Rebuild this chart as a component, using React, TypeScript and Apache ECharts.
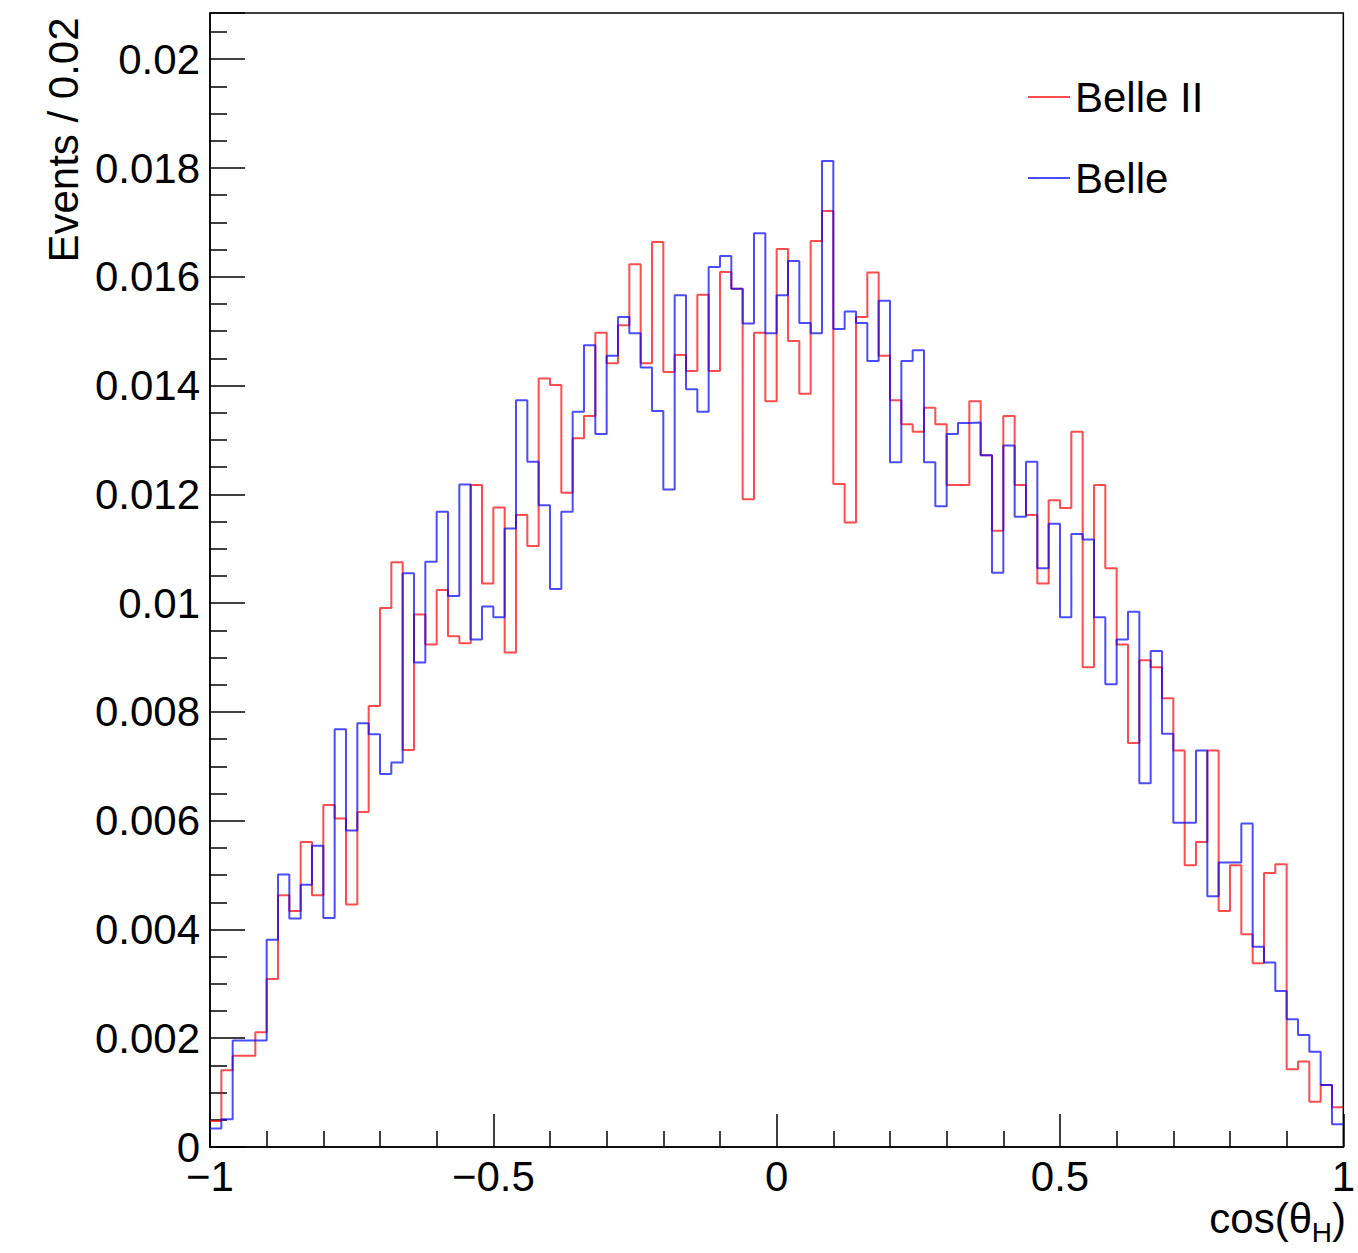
import React, { useEffect, useRef } from "react";
import * as echarts from "echarts";

// Histogram binning: 100 bins from -1 to 1
const X_MIN = -1;
const X_MAX = 1;
const BIN_WIDTH = 0.02;

const seriesNames = ["Belle II", "Belle"];

// Belle II (red), per-bin content
const belle2 = [
  0.00048, 0.00141, 0.00168, 0.00168, 0.00211, 0.00309, 0.00463, 0.00434, 0.00561, 0.00463,
  0.00629, 0.00604, 0.00446, 0.00616, 0.00811, 0.00991, 0.01075, 0.0073, 0.00979, 0.00924,
  0.01024, 0.00939, 0.00926, 0.01217, 0.01036, 0.01176, 0.00909, 0.01162, 0.01105, 0.01413,
  0.01401, 0.01203, 0.01303, 0.01344, 0.01497, 0.01441, 0.01511, 0.01623, 0.01441, 0.01664,
  0.01425, 0.01456, 0.01427, 0.01567, 0.01427, 0.01609, 0.01578, 0.01191, 0.01497, 0.01371,
  0.01651, 0.01482, 0.01385, 0.01666, 0.01721, 0.01219, 0.01148, 0.01526, 0.01608, 0.01455,
  0.01373, 0.01329, 0.01315, 0.01359, 0.01329, 0.01217, 0.01217, 0.01371, 0.01272, 0.01133,
  0.01344, 0.01217, 0.01162, 0.01036, 0.01189, 0.01175, 0.01315, 0.00882, 0.01217, 0.01064,
  0.00924, 0.00743, 0.00895, 0.00882, 0.00825, 0.00729, 0.00518, 0.00561, 0.00729, 0.00434,
  0.00518, 0.00391, 0.00338, 0.00504, 0.0052, 0.00143, 0.00157, 0.00083, 0.00114, 0.00073,
];

// Belle (blue), per-bin content
const belle = [
  0.00034, 0.00051, 0.00196, 0.00196, 0.00196, 0.00381, 0.00501, 0.0042, 0.00482, 0.00554,
  0.00421, 0.00768, 0.00582, 0.00779, 0.00759, 0.00686, 0.00707, 0.01055, 0.00891, 0.01076,
  0.01168, 0.01013, 0.01218, 0.00933, 0.00994, 0.00974, 0.01137, 0.01373, 0.0126, 0.0118,
  0.01026, 0.01168, 0.01352, 0.01474, 0.01311, 0.01455, 0.01526, 0.01496, 0.01433, 0.01353,
  0.01209, 0.01566, 0.01393, 0.01352, 0.01618, 0.01638, 0.01578, 0.01514, 0.0168, 0.01496,
  0.01566, 0.01629, 0.01515, 0.01496, 0.01813, 0.01504, 0.01536, 0.01515, 0.01445, 0.01556,
  0.01259, 0.01445, 0.01465, 0.01259, 0.01178, 0.01311, 0.01331, 0.01332, 0.01272, 0.01056,
  0.0129, 0.01159, 0.0126, 0.01064, 0.01146, 0.00974, 0.01127, 0.01117, 0.00974, 0.00851,
  0.00933, 0.00984, 0.00669, 0.00912, 0.0076, 0.00596, 0.00596, 0.00729, 0.00461, 0.00523,
  0.00523, 0.00595, 0.00368, 0.00339, 0.00287, 0.00235, 0.00206, 0.00175, 0.00114, 0.00042,
];

// Axis settings
const Y_MAX = 0.02085;
const Y_INTERVAL = 0.002;
const X_INTERVAL = 0.5;
const yTitle = "Events / 0.02";
const xTitleMain = "cos(θ";
const xTitleSub = "H";
const xTitleEnd = ")";

const FONT = "'Liberation Sans', Arial, Helvetica, sans-serif";

function histPoints(vals: number[]): number[][] {
  const pts = vals.map((v, i) => [Number((X_MIN + i * BIN_WIDTH).toFixed(4)), v]);
  pts.push([Number((X_MIN + vals.length * BIN_WIDTH).toFixed(4)), vals[vals.length - 1]]);
  return pts;
}

function fmtNum(v: number): string {
  const s = parseFloat(v.toFixed(4)).toString();
  return v < 0 ? "\u2212" + s.replace("-", "") : s;
}

export default function App() {
  const ref = useRef<HTMLDivElement>(null);

  useEffect(() => {
    if (!ref.current) return;
    const chart = echarts.init(ref.current, null, { renderer: "svg" });
    const axisLineStyle = { color: "#000", width: 1.5 };
    chart.setOption({
      animation: false,
      backgroundColor: "#fff",
      grid: {
        left: 210,
        right: 12,
        top: 13,
        bottom: 106,
        show: true,
        borderColor: "#000",
        borderWidth: 1.5,
        backgroundColor: "transparent",
      },
      legend: {
        left: 1028,
        top: 76,
        padding: 0,
        orient: "vertical",
        icon: "rect",
        itemWidth: 42,
        itemHeight: 2,
        itemGap: 39,
        data: seriesNames,
        textStyle: { color: "#000", fontSize: 42, fontFamily: FONT },
      },
      xAxis: {
        type: "value",
        min: X_MIN,
        max: X_MAX,
        interval: X_INTERVAL,
        axisLine: { show: true, onZero: false, lineStyle: axisLineStyle },
        axisTick: { show: true, inside: true, length: 33, lineStyle: axisLineStyle },
        minorTick: { show: true, splitNumber: 5, length: 16, lineStyle: axisLineStyle },
        splitLine: { show: false },
        minorSplitLine: { show: false },
        axisLabel: {
          color: "#000",
          fontSize: 42,
          fontFamily: FONT,
          margin: 8,
          formatter: (v: number) => fmtNum(v),
        },
      },
      yAxis: {
        type: "value",
        min: 0,
        max: Y_MAX,
        interval: Y_INTERVAL,
        axisLine: { show: true, onZero: false, lineStyle: axisLineStyle },
        axisTick: { show: true, inside: true, length: 35, lineStyle: axisLineStyle },
        minorTick: { show: true, splitNumber: 4, length: 17, lineStyle: axisLineStyle },
        splitLine: { show: false },
        minorSplitLine: { show: false },
        axisLabel: {
          color: "#000",
          fontSize: 42,
          fontFamily: FONT,
          margin: 10,
          showMaxLabel: false,
          formatter: (v: number) => fmtNum(v),
        },
      },
      graphic: [
        {
          type: "text",
          x: 63,
          y: 140,
          rotation: Math.PI / 2,
          style: {
            text: yTitle,
            font: `42px ${FONT}`,
            fill: "#000",
            textAlign: "center",
            textVerticalAlign: "middle",
            align: "center",
            verticalAlign: "middle",
          },
        },
        {
          type: "text",
          x: 1312,
          y: 1218,
          style: {
            text: xTitleMain,
            font: `42px ${FONT}`,
            fill: "#000",
            textAlign: "right",
            textVerticalAlign: "middle",
            align: "right",
            verticalAlign: "middle",
          },
        },
        {
          type: "text",
          x: 1332,
          y: 1232,
          style: {
            text: xTitleSub,
            font: `28px ${FONT}`,
            fill: "#000",
            textAlign: "right",
            textVerticalAlign: "middle",
            align: "right",
            verticalAlign: "middle",
          },
        },
        {
          type: "text",
          x: 1346,
          y: 1218,
          style: {
            text: xTitleEnd,
            font: `42px ${FONT}`,
            fill: "#000",
            textAlign: "right",
            textVerticalAlign: "middle",
            align: "right",
            verticalAlign: "middle",
          },
        },
      ],
      series: [
        {
          name: seriesNames[0],
          type: "line",
          step: "end",
          data: histPoints(belle2),
          symbol: "none",
          showSymbol: false,
          clip: true,
          color: "rgba(255,0,0,0.7)",
          lineStyle: { color: "rgba(255,0,0,0.7)", width: 2 },
        },
        {
          name: seriesNames[1],
          type: "line",
          step: "end",
          data: histPoints(belle),
          symbol: "none",
          showSymbol: false,
          clip: true,
          color: "rgba(0,0,255,0.7)",
          lineStyle: { color: "rgba(0,0,255,0.7)", width: 2 },
        },
      ],
    });
    return () => chart.dispose();
  }, []);

  return (
    <div
      ref={ref}
      style={{ position: "absolute", left: 0, top: 0, width: 1358, height: 1253 }}
    />
  );
}
